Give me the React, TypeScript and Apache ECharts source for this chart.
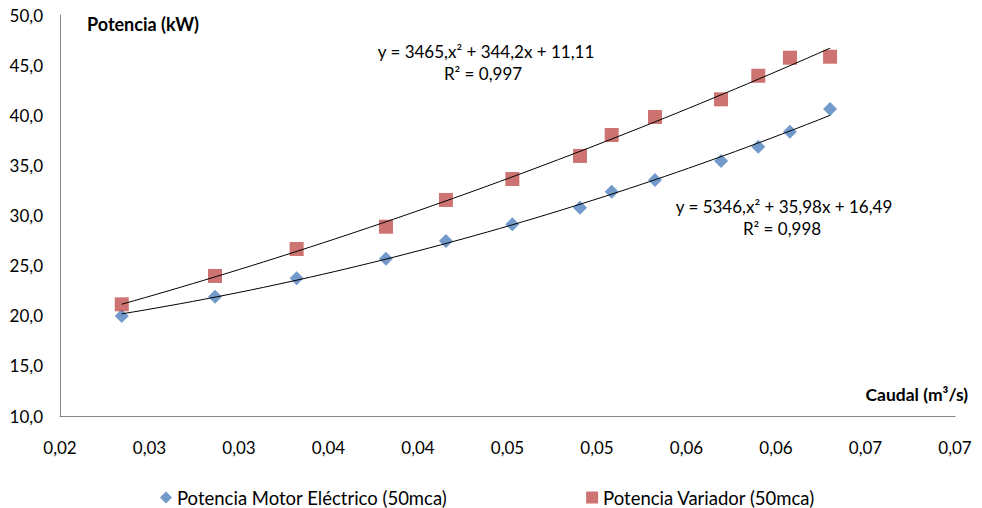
import React, { useEffect, useRef } from 'react';
import * as echarts from 'echarts';

const caudal = [0.02345, 0.02866, 0.03322, 0.03821, 0.04156, 0.04527, 0.04905, 0.05082, 0.05324, 0.05693, 0.05901, 0.06078, 0.06302];
const motorPower = [19.98, 21.9, 23.74, 25.69, 27.46, 29.12, 30.78, 32.37, 33.54, 35.44, 36.86, 38.36, 40.62];
const variadorPower = [21.14, 23.97, 26.66, 28.88, 31.55, 33.64, 35.94, 38.03, 39.83, 41.59, 43.94, 45.74, 45.84];
const xTickLabels = ['0,02', '0,03', '0,03', '0,04', '0,04', '0,05', '0,05', '0,06', '0,06', '0,07', '0,07'];
const seriesNames = ['Potencia Motor Eléctrico (50mca)', 'Potencia Variador (50mca)'];
const eqVariador = ['y = 3465,x² + 344,2x + 11,11', 'R² = 0,997'];
const eqMotor = ['y = 5346,x² + 35,98x + 16,49', 'R² = 0,998'];
const yAxisTitle = 'Potencia (kW)';
const xAxisTitle = 'Caudal (m³/s)';

const FONT = 'Lato, "Noto Sans", sans-serif';

function quadFit(xs: number[], ys: number[]) {
  let s0 = 0, s1 = 0, s2 = 0, s3 = 0, s4 = 0, t0 = 0, t1 = 0, t2 = 0;
  for (let i = 0; i < xs.length; i++) {
    const x = xs[i], y = ys[i];
    s0 += 1; s1 += x; s2 += x * x; s3 += x * x * x; s4 += x * x * x * x;
    t0 += y; t1 += x * y; t2 += x * x * y;
  }
  const M = [
    [s4, s3, s2, t2],
    [s3, s2, s1, t1],
    [s2, s1, s0, t0],
  ];
  for (let i = 0; i < 3; i++) {
    let p = i;
    for (let r = i + 1; r < 3; r++) if (Math.abs(M[r][i]) > Math.abs(M[p][i])) p = r;
    [M[i], M[p]] = [M[p], M[i]];
    for (let r = 0; r < 3; r++) {
      if (r === i) continue;
      const f = M[r][i] / M[i][i];
      for (let c = i; c < 4; c++) M[r][c] -= f * M[i][c];
    }
  }
  return [M[0][3] / M[0][0], M[1][3] / M[1][1], M[2][3] / M[2][2]];
}

function trendLine(xs: number[], ys: number[]) {
  const [a, b, c] = quadFit(xs, ys);
  const x0 = Math.min(...xs), x1 = Math.max(...xs);
  const n = 60;
  const pts: number[][] = [];
  for (let i = 0; i <= n; i++) {
    const x = x0 + ((x1 - x0) * i) / n;
    pts.push([x, a * x * x + b * x + c]);
  }
  return pts;
}

export default function App() {
  const ref = useRef<HTMLDivElement>(null);
  useEffect(() => {
    if (!ref.current) return;
    const chart = echarts.init(ref.current, null, { renderer: 'svg' });
    const textStyle = { fontFamily: FONT, fontSize: 17, fill: '#000' };
    chart.setOption({
      animation: false,
      backgroundColor: '#fff',
      grid: { left: 60, right: 27, top: 15, bottom: 92, containLabel: false },
      xAxis: {
        type: 'value',
        min: 0.02,
        max: 0.07,
        interval: 0.005,
        axisLine: { show: true, lineStyle: { color: '#868686', width: 1 } },
        axisTick: { show: false },
        splitLine: { show: false },
        axisLabel: {
          margin: 23,
          fontFamily: FONT,
          fontSize: 17,
          color: '#000',
          formatter: (v: number) => xTickLabels[Math.round((v - 0.02) / 0.005)] ?? '',
        },
      },
      yAxis: {
        type: 'value',
        min: 10,
        max: 50,
        interval: 5,
        axisLine: { show: true, lineStyle: { color: '#868686', width: 1 } },
        axisTick: { show: false },
        splitLine: { show: false },
        axisLabel: {
          margin: 17,
          fontFamily: FONT,
          fontSize: 17,
          color: '#000',
          formatter: (v: number) => v.toFixed(1).replace('.', ','),
        },
      },
      legend: {
        data: [
          { name: seriesNames[0], icon: 'diamond' },
          { name: seriesNames[1], icon: 'rect' },
        ],
        top: 483,
        left: 155,
        itemGap: 139,
        itemWidth: 12,
        itemHeight: 12,
        textStyle: { fontFamily: FONT, fontSize: 18.5, color: '#000' },
      },
      series: [
        {
          name: seriesNames[0] + ' trend',
          type: 'line',
          data: trendLine(caudal, motorPower),
          showSymbol: false,
          symbol: 'none',
          lineStyle: { color: '#000', width: 1 },
          silent: true,
          z: 3,
        },
        {
          name: seriesNames[1] + ' trend',
          type: 'line',
          data: trendLine(caudal, variadorPower),
          showSymbol: false,
          symbol: 'none',
          lineStyle: { color: '#000', width: 1 },
          silent: true,
          z: 3,
        },
        {
          name: seriesNames[0],
          type: 'scatter',
          symbol: 'diamond',
          symbolSize: 14,
          itemStyle: { color: '#4F81BD' },
          data: caudal.map((x, i) => [x, motorPower[i]]),
          z: 2,
        },
        {
          name: seriesNames[1],
          type: 'scatter',
          symbol: 'rect',
          symbolSize: 14,
          itemStyle: { color: '#C0504D' },
          data: caudal.map((x, i) => [x, variadorPower[i]]),
          z: 2,
        },
      ],
      graphic: [
        { type: 'text', left: 87, top: 15, style: { ...textStyle, text: yAxisTitle, fontWeight: 'bold', fontSize: 18 } },
        { type: 'text', right: 14, top: 385, style: { ...textStyle, text: xAxisTitle, fontWeight: 'bold', fontSize: 17.5 } },
        { type: 'text', x: 486, y: 51, style: { ...textStyle, text: eqVariador[0], align: 'center', verticalAlign: 'middle' } },
        { type: 'text', x: 483, y: 73, style: { ...textStyle, text: eqVariador[1], align: 'center', verticalAlign: 'middle' } },
        { type: 'text', x: 784, y: 206, style: { ...textStyle, text: eqMotor[0], align: 'center', verticalAlign: 'middle' } },
        { type: 'text', x: 782, y: 228, style: { ...textStyle, text: eqMotor[1], align: 'center', verticalAlign: 'middle' } },
      ],
    });
    return () => chart.dispose();
  }, []);
  return <div ref={ref} style={{ position: 'absolute', left: 0, top: 0, width: 982, height: 508 }} />;
}
